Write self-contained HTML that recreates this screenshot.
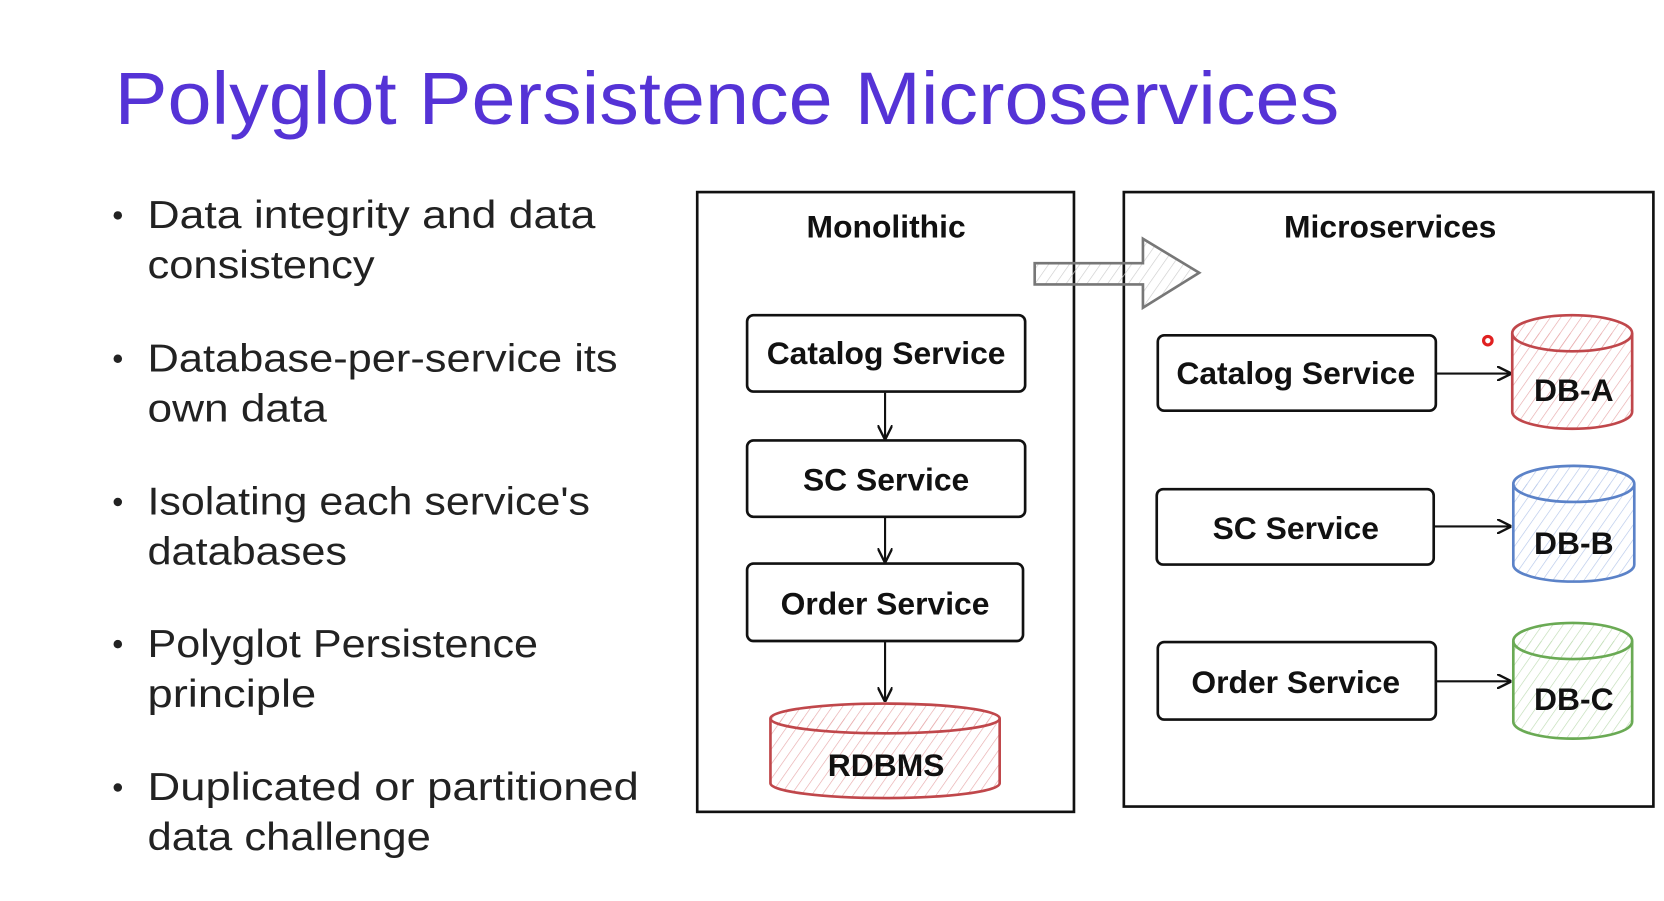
<!DOCTYPE html>
<html><head><meta charset="utf-8"><style>
html,body{margin:0;padding:0;background:#fff;width:1664px;height:901px;overflow:hidden}
svg{display:block}
.t{font-family:"Liberation Sans",sans-serif}
.b{font-family:"Liberation Sans",sans-serif;font-weight:bold;font-size:30px;fill:#111;text-anchor:middle}
.bl{font-family:"Liberation Sans",sans-serif;font-size:37px;fill:#222}
</style></head><body>
<svg width="1664" height="901" viewBox="0 0 1568 849" preserveAspectRatio="none">
<defs>
<pattern id="hr" width="8" height="8" patternUnits="userSpaceOnUse" patternTransform="rotate(35)"><line x1="0" y1="0" x2="0" y2="8" stroke="#e7a9ab" stroke-width="1.2"/></pattern>
<pattern id="hb" width="8" height="8" patternUnits="userSpaceOnUse" patternTransform="rotate(35)"><line x1="0" y1="0" x2="0" y2="8" stroke="#b4c6ea" stroke-width="1.2"/></pattern>
<pattern id="hg" width="8" height="8" patternUnits="userSpaceOnUse" patternTransform="rotate(35)"><line x1="0" y1="0" x2="0" y2="8" stroke="#bfdcb4" stroke-width="1.2"/></pattern>
<pattern id="hy" width="8" height="8" patternUnits="userSpaceOnUse" patternTransform="rotate(35)"><line x1="0" y1="0" x2="0" y2="8" stroke="#ccc" stroke-width="1.2"/></pattern>
<marker id="ar" viewBox="0 0 10 10" refX="9" refY="5" markerWidth="14" markerHeight="14" markerUnits="userSpaceOnUse" orient="auto"><path d="M0,0 L10,5 L0,10" fill="none" stroke="#111" stroke-width="1.6"/></marker>
</defs>
<text class="t" x="108" y="117" font-size="70" fill="#5533d6" textLength="1154" lengthAdjust="spacingAndGlyphs">Polyglot Persistence Microservices</text>

<g class="bl">
<circle cx="111" cy="203" r="4" fill="#222"/><text x="139" y="215" textLength="422" lengthAdjust="spacingAndGlyphs">Data integrity and data</text><text x="139" y="262" textLength="214" lengthAdjust="spacingAndGlyphs">consistency</text>
<circle cx="111" cy="338" r="4" fill="#222"/><text x="139" y="350" textLength="443" lengthAdjust="spacingAndGlyphs">Database-per-service its</text><text x="139" y="397" textLength="169" lengthAdjust="spacingAndGlyphs">own data</text>
<circle cx="111" cy="473" r="4" fill="#222"/><text x="139" y="485" textLength="417" lengthAdjust="spacingAndGlyphs">Isolating each service's</text><text x="139" y="532" textLength="188" lengthAdjust="spacingAndGlyphs">databases</text>
<circle cx="111" cy="607" r="4" fill="#222"/><text x="139" y="619" textLength="368" lengthAdjust="spacingAndGlyphs">Polyglot Persistence</text><text x="139" y="666" textLength="159" lengthAdjust="spacingAndGlyphs">principle</text>
<circle cx="111" cy="742" r="4" fill="#222"/><text x="139" y="754" textLength="463" lengthAdjust="spacingAndGlyphs">Duplicated or partitioned</text><text x="139" y="801" textLength="267" lengthAdjust="spacingAndGlyphs">data challenge</text>
</g>

<g fill="none" stroke="#111" stroke-width="2.5">
<rect x="657" y="181" width="355" height="584"/>
<rect x="1059" y="181" width="499" height="579"/>
<rect x="704" y="297" width="262" height="72" rx="6"/>
<rect x="704" y="415" width="262" height="72" rx="6"/>
<rect x="704" y="531" width="260" height="73" rx="6"/>
<rect x="1091" y="316" width="262" height="71" rx="6"/>
<rect x="1090" y="461" width="261" height="71" rx="6"/>
<rect x="1091" y="605" width="262" height="73" rx="6"/>
</g>
<g stroke="#111" stroke-width="2" marker-end="url(#ar)">
<line x1="834" y1="370" x2="834" y2="413"/>
<line x1="834" y1="488" x2="834" y2="529"/>
<line x1="834" y1="605" x2="834" y2="660"/>
<line x1="1354" y1="352" x2="1423" y2="352"/>
<line x1="1352" y1="496" x2="1423" y2="496"/>
<line x1="1354" y1="642" x2="1423" y2="642"/>
</g>
<path d="M975,248 L1077,248 L1077,225 L1130,257 L1077,290 L1077,268 L975,268 Z" fill="url(#hy)" stroke="#777" stroke-width="2.5"/>

<g stroke-width="2.5">
<path d="M726,677 L726,738 A108,14 0 0 0 942,738 L942,677" fill="url(#hr)" stroke="#c0474b"/>
<ellipse cx="834" cy="677" rx="108" ry="14" fill="url(#hr)" stroke="#c0474b"/>
<path d="M1425,314 L1425,388 A56.5,16 0 0 0 1538,388 L1538,314" fill="url(#hr)" stroke="#c0474b"/>
<ellipse cx="1481.5" cy="314" rx="56.5" ry="17" fill="url(#hr)" stroke="#c0474b"/>
<path d="M1426,456 L1426,532 A57,16 0 0 0 1540,532 L1540,456" fill="url(#hb)" stroke="#5b82c8"/>
<ellipse cx="1483" cy="456" rx="57" ry="17" fill="url(#hb)" stroke="#5b82c8"/>
<path d="M1426,604 L1426,680 A56,16 0 0 0 1538,680 L1538,604" fill="url(#hg)" stroke="#6aaa54"/>
<ellipse cx="1482" cy="604" rx="56" ry="17" fill="url(#hg)" stroke="#6aaa54"/>
</g>
<circle cx="1402" cy="321" r="4" fill="none" stroke="#e02020" stroke-width="3"/>

<text class="b" x="835" y="224">Monolithic</text>
<text class="b" x="1310" y="224">Microservices</text>
<text class="b" x="835" y="343">Catalog Service</text>
<text class="b" x="835" y="462">SC Service</text>
<text class="b" x="834" y="579">Order Service</text>
<text class="b" x="835" y="731">RDBMS</text>
<text class="b" x="1221" y="362">Catalog Service</text>
<text class="b" x="1221" y="508">SC Service</text>
<text class="b" x="1221" y="653">Order Service</text>
<text class="b" x="1483" y="378">DB-A</text>
<text class="b" x="1483" y="522">DB-B</text>
<text class="b" x="1483" y="669">DB-C</text>
</svg>
</body></html>
